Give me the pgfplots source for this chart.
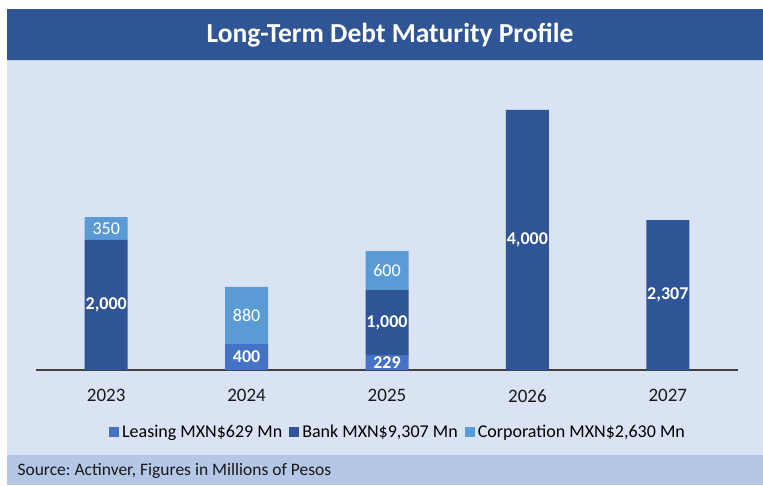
\documentclass[border=0pt]{standalone}
\usepackage{pgfplots}
\pgfplotsset{compat=1.18}
\usepackage{fontspec}
\setmainfont{Carlito}
\definecolor{band}{HTML}{2F5597}
\definecolor{bg}{HTML}{DAE3F3}
\definecolor{foot}{HTML}{B4C7E7}
\definecolor{bank}{HTML}{2F5597}
\definecolor{leasing}{HTML}{4472C4}
\definecolor{corp}{HTML}{5B9BD5}
\begin{document}
\frenchspacing
\begin{tikzpicture}[x=1pt,y=1pt]
\useasboundingbox (0,0) rectangle (763,485);
\fill[white] (0,0) rectangle (763,485);
\fill[bg] (7,30) rectangle (763,425);
\fill[band] (7,425) rectangle (763,476);
\fill[foot] (7,0) rectangle (763,30);
\draw[foot!80!white, line width=0.8pt] (7,425) -- (763,425);
\node[text=white, font=\fontsize{27.5}{30}\selectfont\bfseries] at (390,450) {Long-Term Debt Maturity Profile};
\node[anchor=west, font=\fontsize{17.5}{20}\selectfont, text=black!90] at (14,14) {Source: Actinver, Figures in Millions of Pesos};
\begin{axis}[
  at={(36pt,115pt)}, anchor=south west,
  scale only axis, width=702pt, height=290pt,
  ymin=0, ymax=4461.5, xmin=-0.5, xmax=4.5,
  ybar stacked, bar width=43pt,
  axis x line*=bottom, axis y line=none,
  x axis line style={draw=black!75, line width=1.2pt, -},
  xtick={0,1,2,3,4}, xticklabels={2023,2024,2025,2026,2027},
  major tick length=0pt,
  xticklabel style={font=\fontsize{19}{21}\selectfont, text=black!90, yshift=-16pt},
  /pgf/number format/1000 sep={,},
  /pgf/number format/assume math mode=true,
  nodes near coords={\pgfmathfloatifflags{\pgfplotspointmeta}{0}{}{\pgfmathprintnumber{\pgfplotspointmeta}}},
  every node near coord/.append style={anchor=center, text=white, font=\fontsize{18}{20}\selectfont},
  legend style={at={(axis description cs:0.5157,-0.2138)}, anchor=center, draw=none, fill=none,
    legend columns=3, font=\fontsize{18}{20}\selectfont,
    /tikz/every odd column/.append style={column sep=1pt},
    /tikz/every even column/.append style={column sep=5pt}},
  legend image code/.code={\fill[#1] (0pt,-5pt) rectangle (10pt,5pt);},
]
\addplot+[fill=leasing, draw=none, every node near coord/.append style={font=\fontsize{18}{20}\selectfont\bfseries}]
  coordinates {(0,0) (1,400) (2,229) (3,0) (4,0)};
\addlegendentry{Leasing MXN\$629 Mn}
\addplot+[fill=bank, draw=none, every node near coord/.append style={font=\fontsize{18}{20}\selectfont\bfseries}]
  coordinates {(0,2000) (1,0) (2,1000) (3,4000) (4,2307)};
\addlegendentry{Bank MXN\$9,307 Mn}
\addplot+[fill=corp, draw=none]
  coordinates {(0,350) (1,880) (2,600) (3,0) (4,0)};
\addlegendentry{Corporation MXN\$2,630 Mn}
\end{axis}
\end{tikzpicture}
\end{document}
